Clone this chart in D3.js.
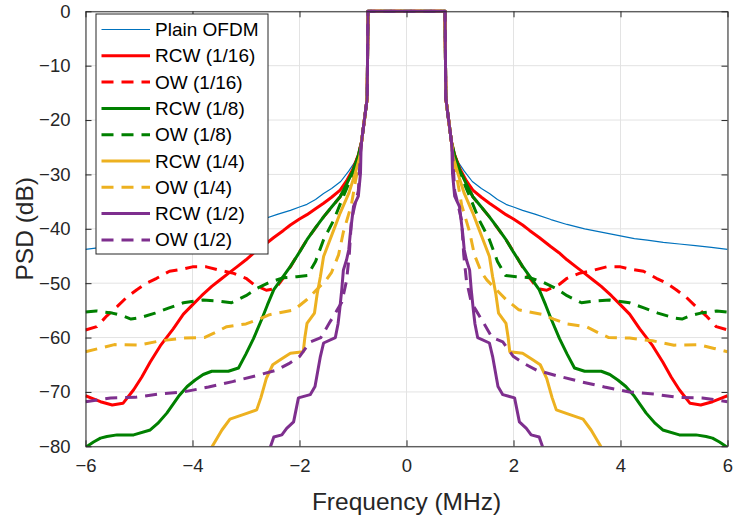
<!DOCTYPE html>
<html>
<head>
<meta charset="utf-8">
<script src="https://cdn.jsdelivr.net/npm/d3@7"></script>
<style>
  body { margin: 0; background: #fff; }
  text { font-family: "Liberation Sans", Arial, sans-serif; }
</style>
</head>
<body>
<div id="chart"></div>
<script>
// PSD of the windowed OFDM variants.
// The spectrum is symmetric, so only f >= 0 is listed and mirrored below.
var xTicks = [-6, -4, -2, 0, 2, 4, 6];
var yTicks = [0, -10, -20, -30, -40, -50, -60, -70, -80];

var names = ["Plain OFDM", "RCW (1/16)", "OW (1/16)", "RCW (1/8)", "OW (1/8)",
             "RCW (1/4)", "OW (1/4)", "RCW (1/2)", "OW (1/2)"];

// in-band part, shared by every curve
var mainLobe = [[0, 0], [0.72, 0], [0.735, -16], [0.84, -24]];

var plainOfdm = [[0.87, -26], [0.95, -27.5], [1.08, -29.4], [1.23, -31.3], [1.4, -32.6], [1.55, -33.5],
  [1.7, -34.6], [1.86, -35.5], [2.0, -36], [2.17, -36.6], [2.4, -37.3], [2.7, -38.3], [3.0, -39.2],
  [3.33, -40], [3.64, -40.6], [3.95, -41.2], [4.26, -41.8], [4.5, -42.1], [4.8, -42.5], [5.1, -42.8],
  [5.4, -43.1], [5.7, -43.4], [6.0, -43.8]];

var rcw16 = [[0.9, -26.4], [1.0, -29], [1.12, -31.2], [1.24, -32.9], [1.4, -34.2], [1.55, -35.3],
  [1.7, -36.3], [1.86, -37.4], [2.0, -38.2], [2.17, -39.3], [2.3, -40.3], [2.48, -41.6], [2.7, -43.3],
  [2.85, -44.4], [3.0, -45.7], [3.17, -47], [3.33, -48.2], [3.5, -49.5], [3.64, -50.6], [3.83, -52.3],
  [4.0, -54], [4.17, -55.7], [4.36, -58.4], [4.6, -61.5], [4.79, -64.5], [4.95, -67.3], [5.1, -69.6],
  [5.3, -72.1], [5.5, -72.4], [5.72, -71.8], [5.9, -71.1], [6.0, -70.7]];

var ow16 = [[0.9, -26.5], [1.0, -29.2], [1.24, -34.1], [1.55, -37.8], [1.86, -42], [2.05, -45],
  [2.17, -47], [2.3, -49], [2.45, -51], [2.62, -51.3], [2.86, -50.2], [3.0, -49.1], [3.23, -48.2],
  [3.5, -47.6], [3.74, -47], [4.0, -47], [4.17, -47.4], [4.43, -47.8], [4.67, -49.1], [4.86, -50],
  [5.04, -51.2], [5.23, -52.6], [5.41, -54.3], [5.6, -56], [5.79, -58], [6.0, -58.6]];

var rcw8 = [[0.9, -26.5], [1.0, -29.3], [1.12, -31.8], [1.24, -34.1], [1.4, -36], [1.55, -37.8],
  [1.7, -39.8], [1.86, -42], [2.0, -44.3], [2.17, -46.9], [2.3, -48.7], [2.48, -51.2], [2.6, -54],
  [2.7, -56.5], [2.86, -60.2], [3.0, -63], [3.14, -65.6], [3.33, -66.2], [3.64, -66.2], [3.8, -66.8],
  [3.95, -67.8], [4.1, -69], [4.26, -70.8], [4.48, -73.9], [4.65, -75.8], [4.79, -77], [5.1, -77.9],
  [5.41, -77.9], [5.6, -78.2], [5.72, -78.5], [5.85, -79.2], [6.0, -80.2]];

var ow8 = [[0.9, -27], [1.0, -29.8], [1.2, -34.5], [1.36, -38.4], [1.55, -42], [1.7, -46],
  [1.85, -48.6], [2.05, -48.8], [2.3, -49], [2.55, -49.8], [2.8, -51], [3.0, -52.3], [3.27, -53.6],
  [3.5, -53.3], [3.8, -53.1], [4.17, -53.6], [4.45, -54.6], [4.7, -55.5], [5.0, -56.4], [5.15, -56.6],
  [5.3, -56], [5.5, -55.5], [5.8, -55.1], [6.0, -55.3]];

var rcw4 = [[0.87, -26.7], [0.96, -29.8], [1.08, -33.5], [1.24, -37.1], [1.36, -40.2], [1.43, -42],
  [1.55, -45.1], [1.61, -48.8], [1.67, -52], [1.72, -55.5], [1.86, -57.4], [1.9, -60], [1.93, -62.6],
  [2.17, -62.9], [2.36, -64.1], [2.5, -65], [2.62, -67.5], [2.72, -71], [2.8, -73.3], [3.0, -74],
  [3.3, -75], [3.45, -77], [3.63, -80], [3.75, -83]];

var ow4 = [[0.87, -27], [0.95, -31], [1.03, -35.6], [1.18, -40.6], [1.27, -44.8], [1.4, -48],
  [1.5, -49.4], [1.74, -51.8], [1.86, -53], [2.1, -54.9], [2.3, -55.3], [2.56, -55.8], [2.75, -56.6],
  [3.0, -57.5], [3.36, -58], [3.6, -59.2], [3.78, -60], [4.17, -60.1], [4.6, -60.6], [5.0, -61.4],
  [5.46, -61.3], [5.75, -62], [6.0, -62.6]];

var rcw2 = [[0.85, -25.5], [0.86, -29.8], [0.9, -34], [0.99, -35.9], [1.05, -40.8], [1.08, -43.9],
  [1.12, -45.7], [1.18, -47.6], [1.21, -51.2], [1.25, -55], [1.28, -57.5], [1.33, -60], [1.55, -61],
  [1.61, -63.5], [1.71, -69], [1.8, -70.5], [2.02, -71.1], [2.11, -75.5], [2.24, -76.7], [2.33, -77.9],
  [2.48, -78.3], [2.54, -80], [2.6, -83]];

var ow2 = [[0.86, -26], [0.9, -33], [0.95, -35], [1.03, -38.5], [1.07, -44.8], [1.12, -49.5],
  [1.21, -53.5], [1.3, -55], [1.44, -57.3], [1.6, -60], [1.8, -60.8], [2.0, -63.5], [2.2, -64.8],
  [2.43, -66], [2.8, -67], [3.25, -68.1], [3.7, -69.1], [4.17, -70], [4.63, -70.4], [5.07, -71],
  [5.53, -71.1], [6.0, -71.8]];

var halves = [plainOfdm, rcw16, ow16, rcw8, ow8, rcw4, ow4, rcw2, ow2];
var colors = ["#0072bd", "#ff0000", "#ff0000", "#008000", "#008000",
              "#edb120", "#edb120", "#7e2f8e", "#7e2f8e"];
var dashed = [false, false, true, false, true, false, true, false, true];

// build the two-sided spectrum
function mirror(half) {
    var right = mainLobe.concat(half);
    var left = right.filter(function(d) { return d[0] > 0; })
        .map(function(d) { return [-d[0], d[1]]; })
        .reverse();
    return left.concat(right);
}

var width = 733;
var height = 521;
var margin = {left: 85.5, right: 5.5, top: 11.3, bottom: 74.7};

var svg = d3.select("#chart")
    .append("svg")
    .attr("width", width)
    .attr("height", height);

var x = d3.scaleLinear().domain([-6, 6]).range([margin.left, width - margin.right]);
var y = d3.scaleLinear().domain([-80, 0]).range([height - margin.bottom, margin.top]);

//grid
svg.append("g")
    .selectAll("line")
    .data(xTicks)
    .enter()
    .append("line")
    .attr("x1", function(d) { return x(d); })
    .attr("x2", function(d) { return x(d); })
    .attr("y1", y(0))
    .attr("y2", y(-80))
    .attr("stroke", "#e3e3e3")
    .attr("stroke-width", 1);

svg.append("g")
    .selectAll("line")
    .data(yTicks)
    .enter()
    .append("line")
    .attr("x1", x(-6))
    .attr("x2", x(6))
    .attr("y1", function(d) { return y(d); })
    .attr("y2", function(d) { return y(d); })
    .attr("stroke", "#e3e3e3")
    .attr("stroke-width", 1);

svg.append("clipPath")
    .attr("id", "plotArea")
    .append("rect")
    .attr("x", x(-6))
    .attr("y", y(0) - 2)
    .attr("width", x(6) - x(-6))
    .attr("height", y(-80) - y(0) + 2);

var line = d3.line()
    .x(function(d) { return x(d[0]); })
    .y(function(d) { return y(d[1]); });

var thick = 3;

svg.append("g")
    .attr("clip-path", "url(#plotArea)")
    .selectAll("path")
    .data(halves)
    .enter()
    .append("path")
    .attr("d", function(d) { return line(mirror(d)); })
    .attr("fill", "none")
    .attr("stroke", function(d, i) { return colors[i]; })
    .attr("stroke-width", function(d, i) { return i === 0 ? 1.2 : thick; })
    .attr("stroke-dasharray", function(d, i) { return dashed[i] ? "12,8" : null; })
    .attr("stroke-linejoin", "round");

//axes, ticks on all four sides like matlab
var axisColor = "#262626";
var tickLen = 6;

svg.append("g")
    .attr("transform", "translate(0," + y(-80) + ")")
    .call(d3.axisBottom(x).tickValues(xTicks).tickSizeInner(-tickLen).tickSizeOuter(0).tickPadding(13))
    .call(function(g) {
        g.select(".domain").attr("stroke", axisColor);
        g.selectAll(".tick line").attr("stroke", axisColor);
        g.selectAll("text").attr("font-size", "18.5px").attr("fill", axisColor)
            .attr("font-family", "Liberation Sans, Arial, sans-serif");
    });

svg.append("g")
    .attr("transform", "translate(0," + y(0) + ")")
    .call(d3.axisTop(x).tickValues(xTicks).tickSizeInner(-tickLen).tickSizeOuter(0).tickFormat(""))
    .call(function(g) {
        g.select(".domain").attr("stroke", axisColor);
        g.selectAll(".tick line").attr("stroke", axisColor);
    });

svg.append("g")
    .attr("transform", "translate(" + x(-6) + ",0)")
    .call(d3.axisLeft(y).tickValues(yTicks).tickSizeInner(-tickLen).tickSizeOuter(0).tickPadding(15))
    .call(function(g) {
        g.select(".domain").attr("stroke", axisColor);
        g.selectAll(".tick line").attr("stroke", axisColor);
        g.selectAll("text").attr("font-size", "18.5px").attr("fill", axisColor)
            .attr("font-family", "Liberation Sans, Arial, sans-serif");
    });

svg.append("g")
    .attr("transform", "translate(" + x(6) + ",0)")
    .call(d3.axisRight(y).tickValues(yTicks).tickSizeInner(-tickLen).tickSizeOuter(0).tickFormat(""))
    .call(function(g) {
        g.select(".domain").attr("stroke", axisColor);
        g.selectAll(".tick line").attr("stroke", axisColor);
    });

//axis labels
svg.append("text")
    .text("Frequency (MHz)")
    .attr("x", (x(-6) + x(6)) / 2)
    .attr("y", 510)
    .attr("text-anchor", "middle")
    .attr("font-size", "24.5px")
    .attr("fill", axisColor);

svg.append("text")
    .text("PSD (dB)")
    .attr("transform", "translate(" + 33 + "," + ((y(0) + y(-80)) / 2) + ") rotate(-90)")
    .attr("text-anchor", "middle")
    .attr("font-size", "24.5px")
    .attr("fill", axisColor);

//legend
var legend = svg.append("g");
legend.append("rect")
    .attr("x", 96)
    .attr("y", 14)
    .attr("width", 172)
    .attr("height", 240)
    .attr("fill", "white")
    .attr("stroke", axisColor)
    .attr("stroke-width", 1);

var rowH = 26.3;
names.forEach(function(name, i) {
    var ly = 29.5 + rowH * i;
    legend.append("line")
        .attr("x1", 101.5)
        .attr("x2", 150)
        .attr("y1", ly)
        .attr("y2", ly)
        .attr("stroke", colors[i])
        .attr("stroke-width", i === 0 ? 1.2 : thick)
        .attr("stroke-dasharray", dashed[i] ? "12,8" : null);
    legend.append("text")
        .text(name)
        .attr("x", 155)
        .attr("y", ly + 6.5)
        .attr("font-size", "19px")
        .attr("fill", "#000");
});
</script>
</body>
</html>
